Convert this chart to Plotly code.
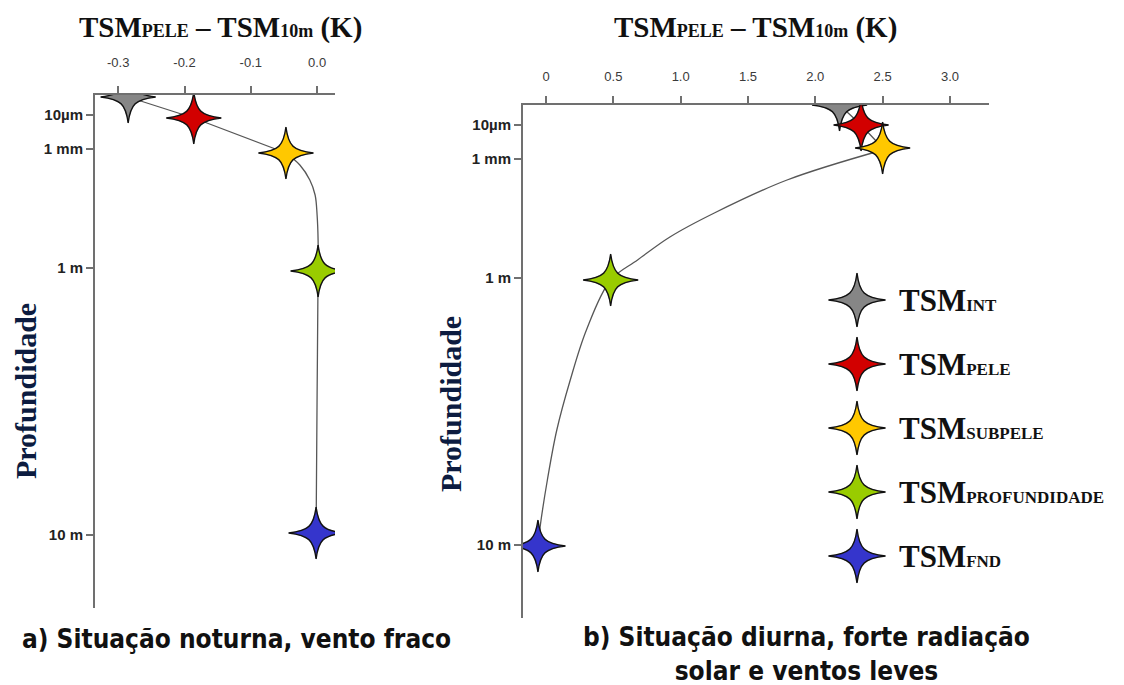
import plotly.graph_objects as go

W, H = 1124, 685

# ---------------- data ----------------
series = ["INT", "PELE", "SUBPELE", "PROFUNDIDADE", "FND"]
colors = ["#868686", "#d20000", "#ffc800", "#99cc00", "#3535cc"]

depth_tick_pos = [20, 54, 173, 440]          # schematic depth positions
depth_tick_text = ["10µm", "1 mm", "1 m", "10 m"]

a_tick_vals = [-0.3, -0.2, -0.1, 0.0]
a_tick_text = ["-0.3", "-0.2", "-0.1", "0.0"]
b_tick_vals = [0, 0.5, 1.0, 1.5, 2.0, 2.5, 3.0]
b_tick_text = ["0", "0.5", "1.0", "1.5", "2.0", "2.5", "3.0"]

# panel a: night, weak wind
a_dT = [-0.285, -0.186, -0.047, 0.0015, -0.0015]
a_depth = [2, 23, 58, 176, 438]
a_line_dT = [-0.285, -0.186, -0.047]
a_line_depth = [2, 23, 58]
a_curve_dT = [-0.047, -0.026, -0.011, -0.003, 0.0, 0.0015, 0.0015, 0.0, -0.0015]
a_curve_depth = [58, 70, 85, 100, 120, 145, 176, 300, 438]

# panel b: day, strong solar radiation, light wind
b_dT = [2.18, 2.34, 2.50, 0.48, -0.06]
b_depth = [0, 20, 43, 175, 441]
b_line_dT = [2.18, 2.34, 2.50]
b_line_depth = [0, 20, 43]
b_curve_dT = [2.50, 1.79, 1.25, 0.92, 0.68, 0.48, 0.30, 0.18, 0.08, 0.01, -0.04, -0.06]
b_curve_depth = [45, 75, 108, 132, 155, 175, 225, 275, 325, 375, 418, 441]

legend_rows = list(range(len(series)))

SERIF = "Liberation Serif"
SANS = "Liberation Sans"
LINE_C = "#575757"
AX_C = "#707070"


def star_path(w, h, a, b):
    # four-pointed star with concave arms (cubic curves pulled toward the centre)
    return ("M{nw},0 C{na},{nb} {nb},{na} 0,{nh} "
            "C{b},{na} {a},{nb} {w},0 "
            "C{a},{b} {b},{a} 0,{h} "
            "C{nb},{a} {na},{b} {nw},0 Z").format(
        w=w, h=h, a=a, b=b, nw=-w, nh=-h, na=-a, nb=-b)


fig = go.Figure()
shapes = []


def add_stars(xa, ya, xs, ys, w=27.5, h=26, a=7, b=2.5):
    for xv, yv, c in zip(xs, ys, colors):
        # soft shadow
        shapes.append(dict(type="path", xref=xa, yref=ya, xsizemode="pixel", ysizemode="pixel",
                           xanchor=xv, yanchor=yv, path=star_path(w + 1, h + 1, a + 1, b + 0.5),
                           fillcolor="rgba(0,0,0,0.35)", line=dict(width=0)))
        shapes.append(dict(type="path", xref=xa, yref=ya, xsizemode="pixel", ysizemode="pixel",
                           xanchor=xv, yanchor=yv, path=star_path(w, h, a, b),
                           fillcolor=c, line=dict(color="#111111", width=1.4)))


def add_panel(xa, ya, ldT, ldep, cdT, cdep, dT, dep):
    fig.add_trace(go.Scatter(x=ldT, y=ldep, mode="lines", xaxis=xa, yaxis=ya,
                             line=dict(color=LINE_C, width=1.3), showlegend=False, hoverinfo="skip"))
    fig.add_trace(go.Scatter(x=cdT, y=cdep, mode="lines", xaxis=xa, yaxis=ya,
                             line=dict(color=LINE_C, width=1.3, shape="spline", smoothing=1.0),
                             showlegend=False, hoverinfo="skip"))
    fig.add_trace(go.Scatter(x=dT, y=dep, mode="markers", xaxis=xa, yaxis=ya,
                             marker=dict(size=2, color=colors, opacity=0),
                             text=series, showlegend=False, hoverinfo="x+y+text"))
    add_stars(xa, ya, dT, dep)


add_panel("x", "y", a_line_dT, a_line_depth, a_curve_dT, a_curve_depth, a_dT, a_depth)
add_panel("x2", "y2", b_line_dT, b_line_depth, b_curve_dT, b_curve_depth, b_dT, b_depth)

# legend on its own hidden axis, one row per series
fig.add_trace(go.Scatter(x=[0] * len(series), y=legend_rows, mode="markers", xaxis="x3", yaxis="y3",
                         marker=dict(size=2, opacity=0), showlegend=False, hoverinfo="skip"))
add_stars("x3", "y3", [0] * len(series), legend_rows, w=28.5, h=27, a=7, b=2.5)


def px_x(p):
    return p / W


def px_y(p):
    return 1 - p / H


common_x = dict(side="top", showline=True, linecolor=AX_C, linewidth=2, ticks="outside",
                ticklen=7, tickwidth=1.5, tickcolor=AX_C, showgrid=False, zeroline=False,
                tickfont=dict(family=SANS, size=13, color="#3a3a3a"))
common_y = dict(showline=True, linecolor=AX_C, linewidth=2, ticks="outside", ticklen=7,
                tickwidth=1.5, tickcolor=AX_C, showgrid=False, zeroline=False,
                tickvals=depth_tick_pos, ticktext=depth_tick_text, range=[513, 0],
                tickfont=dict(family=SANS, size=15, color="#222222", weight="bold"))

fig.update_layout(
    width=W, height=H, margin=dict(l=0, r=0, t=0, b=0),
    paper_bgcolor="white", plot_bgcolor="white",
    xaxis=dict(common_x, domain=[px_x(95), px_x(335)], anchor="y", range=[-0.335, 0.027],
               tickvals=a_tick_vals, ticktext=a_tick_text, ticklabelstandoff=14),
    yaxis=dict(common_y, domain=[px_y(608), px_y(95)], anchor="x"),
    xaxis2=dict(common_x, domain=[px_x(523), px_x(989)], anchor="y2", range=[-0.171, 3.29],
                tickvals=b_tick_vals, ticktext=b_tick_text, ticklabelstandoff=10),
    yaxis2=dict(common_y, domain=[px_y(618), px_y(105)], anchor="x2"),
    xaxis3=dict(domain=[px_x(827), px_x(887)], anchor="y3", range=[-1, 1], visible=False),
    yaxis3=dict(domain=[px_y(588), px_y(268)], anchor="x3", range=[4.5, -0.5], visible=False),
)


def sub(t, s=17):
    return "<span style='font-size:%dpx'>%s</span>" % (s, t)


title_txt = "TSM" + sub("PELE", 18) + " – TSM" + sub("10m", 18) + " (K)"
ann = []
for xp, yp in [(220, 27), (755, 28)]:
    ann.append(dict(text=title_txt, x=px_x(xp), y=px_y(yp), xref="paper", yref="paper",
                    xanchor="center", yanchor="middle", showarrow=False,
                    font=dict(family=SERIF, size=29, color="#111111", weight="bold")))
for xp, yp in [(25, 391), (450, 404)]:
    ann.append(dict(text="Profundidade", x=px_x(xp), y=px_y(yp), xref="paper", yref="paper",
                    xanchor="center", yanchor="middle", textangle=-90, showarrow=False,
                    font=dict(family=SERIF, size=30, color="#0c1c40", weight="bold")))
for i, name in zip(legend_rows, series):
    ann.append(dict(text="TSM" + sub(name, 17), x=0, y=i, xref="x3", yref="y3",
                    xanchor="left", yanchor="middle", xshift=40, showarrow=False,
                    font=dict(family=SERIF, size=31, color="#111111", weight="bold")))
cap_font = dict(family="Liberation Sans Narrow, DejaVu Sans Condensed, " + SANS, size=26,
                color="#111111", weight="bold")
ann.append(dict(text="a) Situação noturna, vento fraco", x=px_x(237), y=px_y(639),
                xref="paper", yref="paper", xanchor="center", yanchor="middle",
                showarrow=False, font=cap_font))
ann.append(dict(text="b) Situação diurna, forte radiação<br>solar e ventos leves", x=px_x(806), y=px_y(654),
                xref="paper", yref="paper", xanchor="center", yanchor="middle", align="center",
                showarrow=False, font=cap_font))
fig.update_layout(annotations=ann, shapes=shapes)

fig.write_html("out.html")
